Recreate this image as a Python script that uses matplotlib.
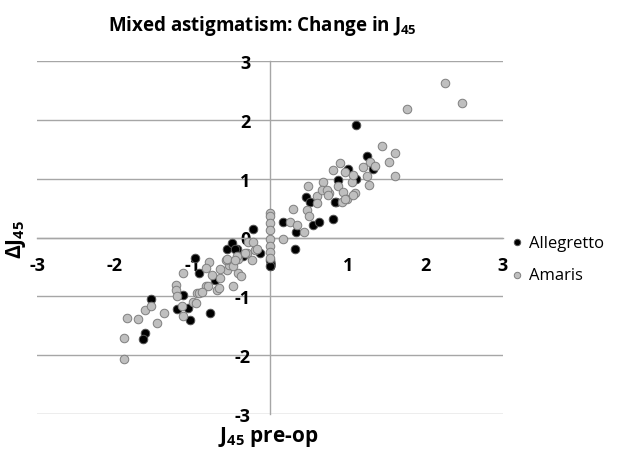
import matplotlib
matplotlib.use("Agg")
import matplotlib.pyplot as plt

plt.rcParams["font.family"] = ["Open Sans", "DejaVu Sans"]
plt.rcParams["font.weight"] = "bold"
plt.rcParams["mathtext.fontset"] = "custom"
plt.rcParams["mathtext.rm"] = "Open Sans:bold"
plt.rcParams["mathtext.bf"] = "Open Sans:bold"
plt.rcParams["mathtext.it"] = "Open Sans:bold"

# Allegretto (black)
allegretto_x = [-1.53, -1.61, -1.63, -1.12, -1.20, -1.06, -1.03, -0.77, -0.97, -0.91,
                -0.71, -0.55, -0.49, -0.42, -0.35, -0.22, -0.13, 0.00, 0.00, -0.45,
                0.17, 0.32, 0.33, 0.55, 0.63, 0.81, 0.46, 0.51, 0.85, 0.88,
                1.11, 1.00, 1.33, 1.25, 1.11, 0.84]
allegretto_y = [-1.05, -1.62, -1.73, -0.97, -1.21, -1.19, -1.41, -1.28, -0.34, -0.61,
                -0.73, -0.19, -0.10, -0.20, -0.32, 0.15, -0.27, -0.39, -0.49, -0.19,
                0.26, -0.19, 0.10, 0.22, 0.27, 0.31, 0.68, 0.60, 0.60, 0.97,
                0.99, 1.17, 1.17, 1.38, 1.92, 0.61]

# Amaris (grey)
amaris_x = [-1.84, -1.70, -1.61, -1.53, -1.36, -1.45, -1.88, -1.88, -1.21, -1.21,
            -1.20, -1.13, -1.12, -0.99, -0.94, -0.95, -0.91, -0.82, -1.12, -0.79,
            -0.68, -0.82, -0.64, -0.55, -0.53, -0.48, -0.41, -0.37, -0.57, -0.48,
            -0.41, -0.30, -0.23, -0.19, -0.28, -0.42, -0.75, -0.64, -0.66, -0.80,
            -0.88, -0.48, -0.55, -0.45,
            0.00, 0.00, 0.00, 0.00, 0.00, 0.00, 0.00, 0.00,
            0.17, -0.22, -0.17, -0.32,
            0.49, 0.68, 0.60, 0.67, 0.76, 0.88, 0.94, 0.99, 0.93, 1.09,
            1.06, 0.60, 0.48, 0.50, 0.30, 0.26, 0.35, 0.44,
            1.44, 1.61, 1.53, 1.29, 1.35, 1.20, 1.61, 0.90, 0.81, 0.97,
            1.07, 1.27, 1.25, 0.73, 1.07, 0.97, 0.75,
            2.25, 2.47, 1.76]
amaris_y = [-1.36, -1.39, -1.24, -1.17, -1.29, -1.46, -1.70, -2.06, -0.80, -0.90,
            -0.99, -1.16, -1.33, -1.09, -0.95, -1.11, -0.94, -0.83, -0.60, -0.41,
            -0.90, -0.51, -0.68, -0.56, -0.46, -0.82, -0.60, -0.66, -0.39, -0.41,
            -0.37, -0.26, -0.39, -0.22, -0.07, -0.31, -0.63, -0.53, -0.85, -0.83,
            -0.92, -0.48, -0.36, -0.39,
            0.41, 0.36, 0.24, 0.12, -0.02, -0.14, -0.24, -0.34,
            -0.02, -0.07, -0.19, -0.27,
            0.87, 0.94, 0.71, 0.80, 0.75, 0.87, 0.78, 0.65, 0.61, 0.75,
            0.95, 0.58, 0.46, 0.37, 0.49, 0.27, 0.22, 0.10,
            1.55, 1.43, 1.29, 1.29, 1.22, 1.19, 1.05, 1.26, 1.14, 1.12,
            1.07, 0.90, 1.05, 0.80, 0.73, 0.66, 0.73,
            2.62, 2.28, 2.19]

ticks = [-3, -2, -1, 0, 1, 2, 3]
tick_labels = ["-3", "-2", "-1", "0", "1", "2", "3"]

fig = plt.figure(figsize=(6.36, 4.52), dpi=100)
ax = fig.add_axes([37 / 636, 37 / 452, 466 / 636, 353 / 452])

# spines first: moving them resets the tick label objects
ax.spines["left"].set_position(("data", 0))
ax.spines["bottom"].set_position(("data", 0))
ax.spines["top"].set_visible(False)
ax.spines["right"].set_visible(False)
for s in ("left", "bottom"):
    ax.spines[s].set_color("#A6A6A6")
    ax.spines[s].set_linewidth(1.0)

ax.scatter(allegretto_x, allegretto_y, s=38, c="black", edgecolors="#555555",
           linewidths=0.7, label="Allegretto", zorder=3)
ax.scatter(amaris_x, amaris_y, s=38, c="#BFBFBF", edgecolors="#7F7F7F",
           linewidths=0.7, label="Amaris", zorder=4)

ax.set_xlim(-3, 3)
ax.set_ylim(-3, 3)
ax.set_xticks(ticks)
ax.set_yticks(ticks)
ax.set_xticklabels(tick_labels, fontweight="bold")
ax.set_yticklabels(tick_labels, fontweight="bold")
ax.tick_params(axis="both", length=0, labelsize=13)
ax.tick_params(axis="x", pad=13)
ax.tick_params(axis="y", pad=14)

ax.yaxis.grid(True, color="#A6A6A6", linewidth=1.0)
ax.set_axisbelow(True)

fig.text(262 / 636, 1 - 26 / 452, "Mixed astigmatism: Change in J$_{45}$",
         ha="center", va="center", fontsize=13.5, fontweight="bold")
fig.text(268 / 636, 1 - 437 / 452, "J$_{45}$ pre-op",
         ha="center", va="center", fontsize=15, fontweight="bold")
fig.text(16 / 636, 1 - 240 / 452, "ΔJ$_{45}$", rotation=90,
         ha="center", va="center", fontsize=15, fontweight="bold")

leg = ax.legend(loc="center left", bbox_to_anchor=(492 / 636, 1 - 260 / 452),
                bbox_transform=fig.transFigure, frameon=False,
                markerscale=0.75, handletextpad=0.1, labelspacing=1.0,
                handlelength=1.2, prop={"weight": "normal", "size": 12})

fig.savefig("out.png", dpi=100)
